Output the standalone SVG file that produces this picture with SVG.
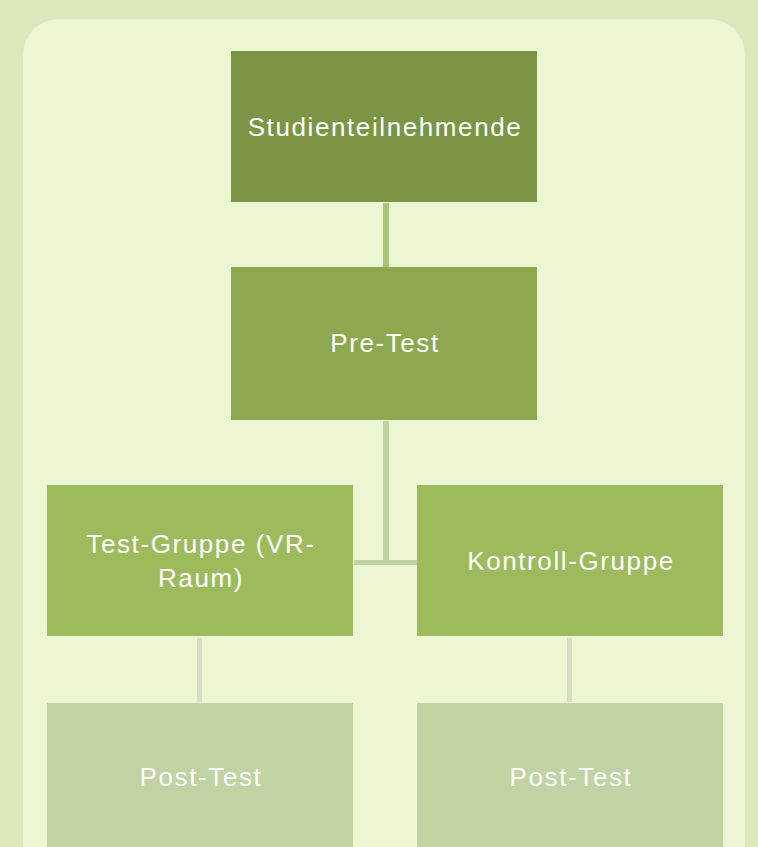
<svg xmlns="http://www.w3.org/2000/svg" width="758" height="847" viewBox="0 0 758 847">
<style>
.t{font-family:"Liberation Sans","Noto Sans",sans-serif;font-size:26px;letter-spacing:1.6px;fill:#ffffff;text-anchor:middle}
</style>
<rect x="0" y="0" width="758" height="847" fill="#DAE8BB"/>
<rect x="23" y="19" width="722" height="900" rx="36" ry="36" fill="#EDF6D2"/>
<g id="connectors">
<rect x="383" y="203" width="6" height="64" fill="#A9C47A"/>
<rect x="383" y="421" width="6" height="142" fill="#C2D1A2"/>
<rect x="354" y="560" width="63" height="5" fill="#C2D1A2"/>
<rect x="197" y="638" width="5" height="64" fill="#D6DFC2"/>
<rect x="567" y="638" width="5" height="64" fill="#D6DFC2"/>
</g>
<g id="n1"><rect x="231" y="51" width="306" height="151" fill="#7C9545"/><text class="t" x="385" y="136">Studienteilnehmende</text></g>
<g id="n2"><rect x="231" y="267" width="306" height="153" fill="#8DA84F"/><text class="t" x="385" y="352">Pre-Test</text></g>
<g id="n3"><rect x="47" y="485" width="306" height="151" fill="#9DBB5D"/><text class="t" x="201" y="553">Test-Gruppe (VR-</text><text class="t" x="201" y="587">Raum)</text></g>
<g id="n4"><rect x="417" y="485" width="306" height="151" fill="#9DBB5D"/><text class="t" x="571" y="570">Kontroll-Gruppe</text></g>
<g id="n5"><rect x="47" y="703" width="306" height="160" fill="#C1D2A3"/><text class="t" x="201" y="786">Post-Test</text></g>
<g id="n6"><rect x="417" y="703" width="306" height="160" fill="#C1D2A3"/><text class="t" x="571" y="786">Post-Test</text></g>
</svg>
